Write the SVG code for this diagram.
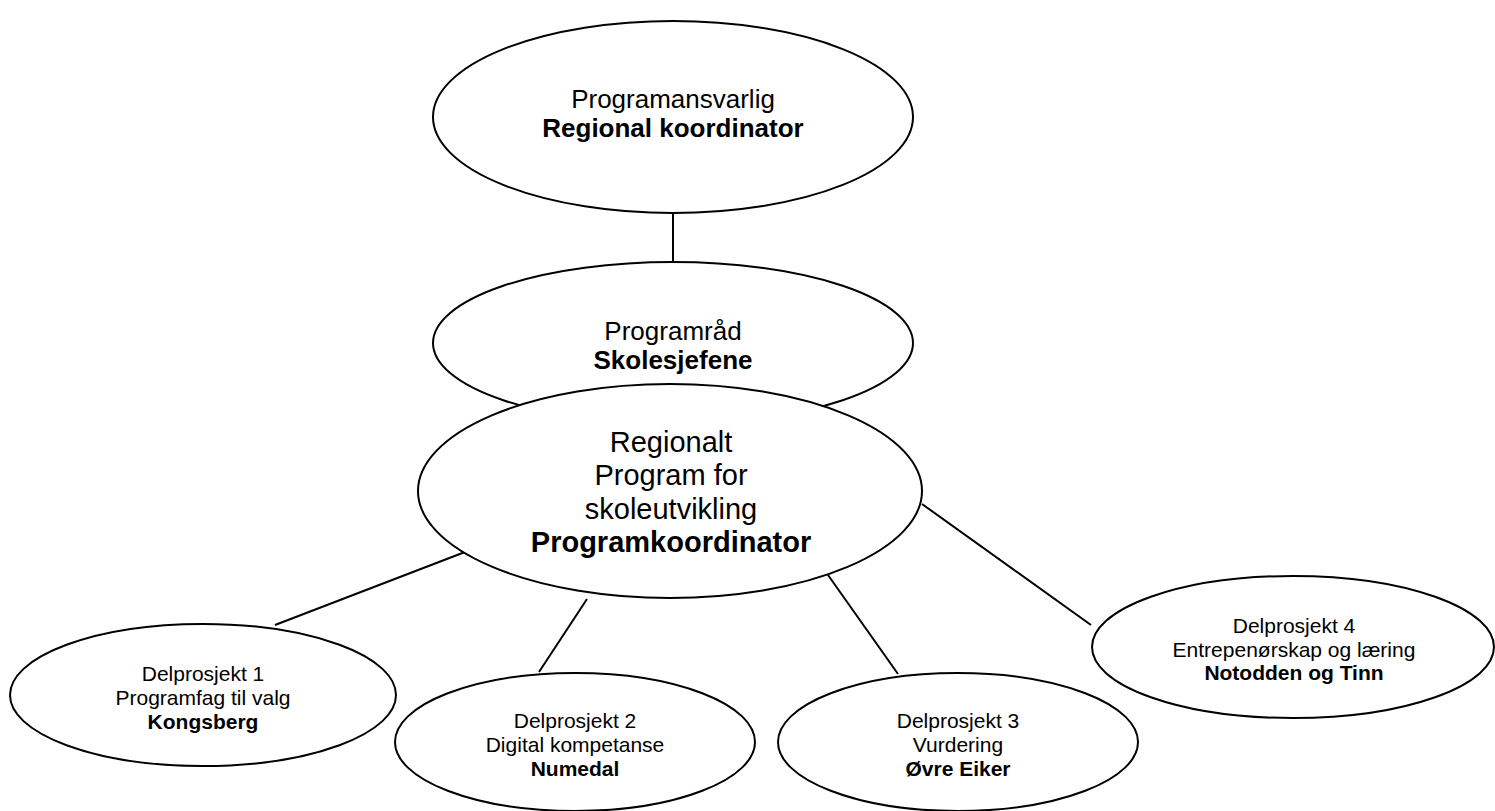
<svg xmlns="http://www.w3.org/2000/svg" width="1495" height="811" viewBox="0 0 1495 811">
<style>
.n{fill:#fff;stroke:#000;stroke-width:2}
.c line{stroke:#000;stroke-width:2}
text{font-family:"Liberation Sans",Arial,sans-serif;text-anchor:middle;fill:#000}
.t26{font-size:26px}
.t29{font-size:29px}
.t21{font-size:21px}
.b{font-weight:bold}
</style>
<rect width="1495" height="811" fill="#fff"/>
<g id="connectors" class="c">
<line x1="673" y1="213" x2="673" y2="262"/>
<line x1="275" y1="625" x2="465" y2="552"/>
<line x1="587" y1="599" x2="539" y2="672"/>
<line x1="828" y1="575" x2="898" y2="674"/>
<line x1="922" y1="504" x2="1091" y2="625"/>
</g>
<g id="programansvarlig">
<ellipse class="n" cx="673" cy="117" rx="240" ry="96"/>
<text class="t26" x="673" y="108">Programansvarlig</text>
<text class="t26 b" x="673" y="137">Regional koordinator</text>
</g>
<g id="programraad">
<ellipse class="n" cx="673" cy="343" rx="240" ry="81"/>
<text class="t26" x="673" y="340">Programråd</text>
<text class="t26 b" x="673" y="369">Skolesjefene</text>
</g>
<g id="regionalt">
<ellipse class="n" cx="670" cy="491" rx="252" ry="107"/>
<text class="t29" x="671" y="452">Regionalt</text>
<text class="t29" x="671" y="485">Program for</text>
<text class="t29" x="671" y="519">skoleutvikling</text>
<text class="t29 b" x="671" y="552">Programkoordinator</text>
</g>
<g id="delprosjekt1">
<ellipse class="n" cx="203" cy="695" rx="193" ry="71"/>
<text class="t21" x="203" y="681">Delprosjekt 1</text>
<text class="t21" x="203" y="705">Programfag til valg</text>
<text class="t21 b" x="203" y="729">Kongsberg</text>
</g>
<g id="delprosjekt2">
<ellipse class="n" cx="575" cy="742" rx="180" ry="69"/>
<text class="t21" x="575" y="728">Delprosjekt 2</text>
<text class="t21" x="575" y="752">Digital kompetanse</text>
<text class="t21 b" x="575" y="776">Numedal</text>
</g>
<g id="delprosjekt3">
<ellipse class="n" cx="958" cy="742" rx="180" ry="69"/>
<text class="t21" x="958" y="728">Delprosjekt 3</text>
<text class="t21" x="958" y="752">Vurdering</text>
<text class="t21 b" x="958" y="776">Øvre Eiker</text>
</g>
<g id="delprosjekt4">
<ellipse class="n" cx="1293" cy="647" rx="201" ry="71"/>
<text class="t21" x="1294" y="633">Delprosjekt 4</text>
<text class="t21" x="1294" y="657">Entrepenørskap og læring</text>
<text class="t21 b" x="1294" y="680">Notodden og Tinn</text>
</g>
</svg>
